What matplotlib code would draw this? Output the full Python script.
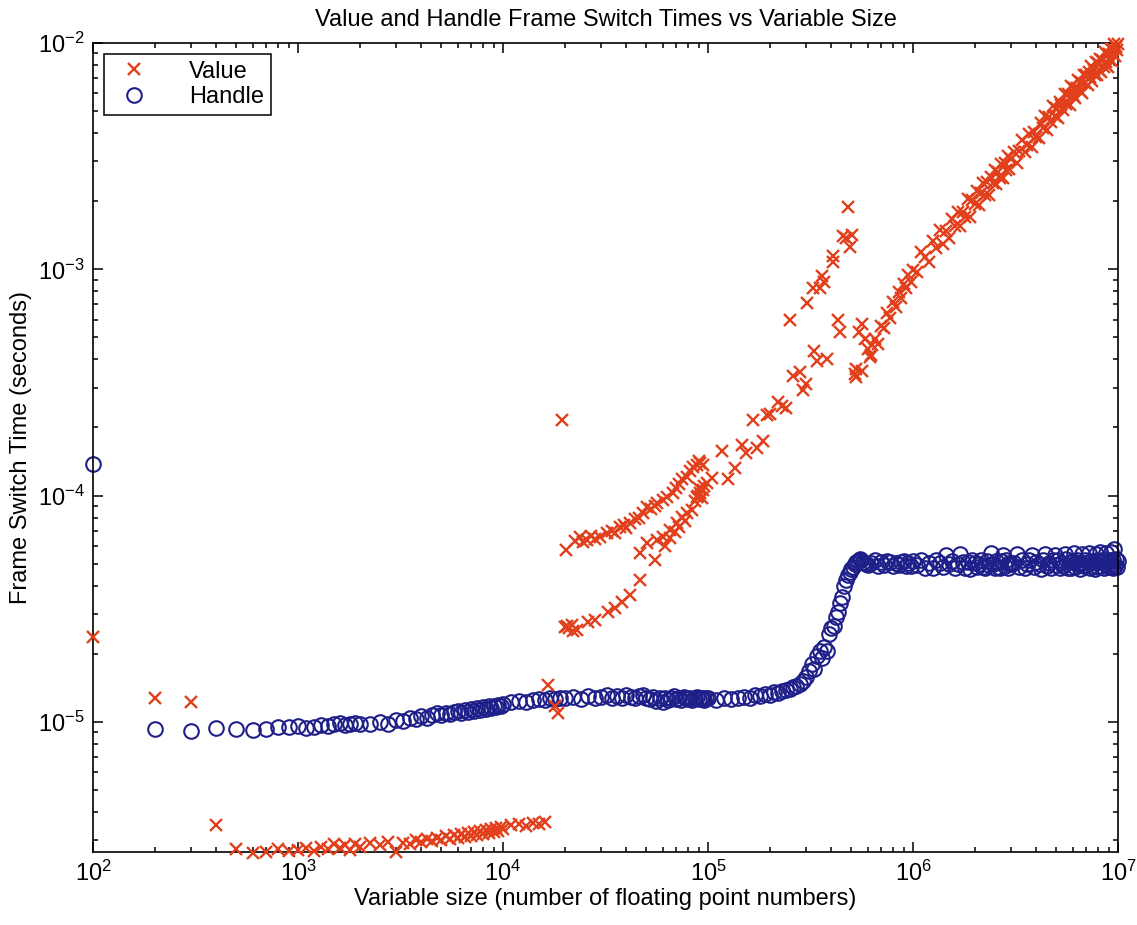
import numpy as np
import matplotlib.pyplot as plt

plt.rcParams['font.family'] = ['Liberation Sans', 'DejaVu Sans']
plt.rcParams['mathtext.default'] = 'regular'

VALUE_C = '#e2401c'
HANDLE_C = '#1f1f8a'

# ---------------- Handle frame switch times ----------------
h_small_x = [100, 200, 300, 400, 500, 600, 700, 800, 900, 1000,
             1100, 1200, 1300, 1400, 1500, 1600, 1700, 1800, 1900, 2000]
h_small_us = [138, 9.3, 9.1, 9.4, 9.3, 9.2, 9.3, 9.5, 9.5, 9.6,
              9.4, 9.5, 9.7, 9.6, 9.8, 9.9, 9.7, 9.8, 9.9, 9.8]

h_mid_x = [2250, 2500, 2750, 3000, 3250, 3500, 3750, 4000, 4250, 4500,
           4750, 5000, 5250, 5500, 5750, 6000, 6250, 6500, 6750, 7000,
           7250, 7500, 7750, 8000, 8250, 8500, 8750, 9000, 9250, 9500,
           9750, 10000]
h_mid_us = [9.8, 10.0, 9.8, 10.2, 10.1, 10.4, 10.3, 10.6, 10.4, 10.7,
            10.9, 10.7, 11.0, 10.8, 11.1, 11.2, 10.9, 11.3, 11.1, 11.4,
            11.2, 11.5, 11.3, 11.6, 11.4, 11.7, 11.5, 11.8, 11.6, 11.9,
            11.7, 12.0]

h_sparse_x = [11000, 12000, 13000, 14000, 15000, 16000, 17000, 18000, 19000, 20000]
h_sparse_us = [12.2, 12.4, 12.3, 12.5, 12.6, 12.5, 12.7, 12.6, 12.8, 12.7]

h_dense_x = [22000, 24000, 26000, 28000, 30000, 32000, 34000, 36000, 38000, 40000,
             42000, 44000, 46000, 48000, 50000, 52000, 54000, 56000, 58000, 60000,
             62000, 64000, 66000, 68000, 70000, 72000, 74000, 76000, 78000, 80000,
             82000, 84000, 86000, 88000, 90000, 92000, 94000, 96000, 98000, 100000]
h_dense_us = [12.9, 12.6, 13.0, 12.7, 12.9, 13.1, 12.7, 13.0, 12.8, 13.2,
              12.9, 12.7, 13.0, 13.1, 12.8, 12.6, 12.9, 12.4, 12.7, 12.3,
              12.8, 12.5, 12.7, 13.0, 12.6, 12.8, 12.5, 12.9, 12.7, 12.6,
              12.8, 12.5, 12.7, 12.9, 12.6, 12.8, 12.7, 12.5, 12.8, 12.7]

h_ramp_x = [110000, 120000, 130000, 140000, 150000, 160000, 170000, 180000, 190000, 200000,
            210000, 220000, 230000, 240000, 250000, 260000, 270000, 280000, 290000, 300000,
            310000, 320000, 330000, 340000, 350000, 360000, 370000, 380000, 390000, 400000,
            410000, 420000, 430000, 440000, 450000, 460000, 470000, 480000, 490000, 500000,
            510000, 520000, 530000, 540000, 550000, 560000, 570000, 580000, 590000, 600000]
h_ramp_us = [12.5, 12.7, 12.6, 12.8, 12.9, 12.8, 13.1, 13.0, 13.3, 13.2,
             13.5, 13.4, 13.7, 13.8, 14.0, 14.2, 14.4, 14.7, 15.2, 15.8,
             16.8, 18.0, 17.2, 19.5, 20.5, 19.2, 21.5, 20.5, 24.5, 26.0,
             26.5, 29.0, 30.5, 33.5, 35.5, 40.0, 42.5, 44.5, 46.0, 47.5,
             48.5, 50.0, 51.0, 51.5, 52.5, 52.0, 51.0, 50.5, 50.0, 49.5]

# large sizes (millions of floats), shared by both series
big_a_m = [0.625, 0.65, 0.675, 0.70, 0.725, 0.75, 0.775, 0.80,
           0.825, 0.85, 0.875, 0.90, 0.925, 0.95, 0.975, 1.0]
big_b_m = [1.05, 1.10, 1.15, 1.20, 1.25, 1.30, 1.35, 1.40, 1.45, 1.50,
           1.55, 1.60, 1.65, 1.70, 1.75, 1.80, 1.85, 1.90, 1.95, 2.00,
           2.05, 2.10, 2.15, 2.20, 2.25, 2.30, 2.35, 2.40, 2.45, 2.50,
           2.55, 2.60, 2.65, 2.70, 2.75, 2.80, 2.85, 2.90, 2.95, 3.00]
big_c_m = [3.1, 3.2, 3.3, 3.4, 3.5, 3.6, 3.7, 3.8, 3.9, 4.0,
           4.1, 4.2, 4.3, 4.4, 4.5, 4.6, 4.7, 4.8, 4.9, 5.0,
           5.1, 5.2, 5.3, 5.4, 5.5, 5.6, 5.7, 5.8, 5.9, 6.0,
           6.1, 6.2, 6.3, 6.4, 6.5, 6.6, 6.7, 6.8, 6.9, 7.0,
           7.1, 7.2, 7.3, 7.4, 7.5, 7.6, 7.7, 7.8, 7.9, 8.0,
           8.1, 8.2, 8.3, 8.4, 8.5, 8.6, 8.7, 8.8, 8.9, 9.0,
           9.1, 9.2, 9.3, 9.4, 9.5, 9.6, 9.7, 9.8, 9.9, 10.0]

h_big_a_us = [50.5, 51.8, 48.6, 50.9, 49.2, 51.3, 51.1, 48.8,
              50.6, 49.4, 51.1, 51.3, 48.7, 50.4, 48.9, 51.2]
h_big_b_us = [49.5, 51.8, 48.1, 50.3, 47.7, 51.9, 50.6, 48.3, 54.8, 49.6,
              51.4, 47.8, 49.7, 55.2, 51.1, 48.0, 50.7, 47.6, 51.8, 50.5,
              48.4, 49.9, 51.8, 48.2, 47.9, 51.3, 49.5, 55.6, 50.0, 47.9,
              51.6, 48.4, 47.7, 51.2, 54.9, 48.6, 51.9, 48.1, 50.4, 49.7]
h_big_c_us = [50.2, 55.4, 48.3, 51.7, 47.8, 49.9, 52.1, 54.7, 48.2, 50.8,
              49.6, 47.5, 51.8, 55.1, 48.8, 50.6, 47.9, 52.0, 54.9, 49.5,
              51.9, 47.7, 50.4, 48.6, 55.3, 52.2, 48.1, 50.8, 47.9, 51.5,
              55.6, 48.4, 51.7, 49.8, 47.6, 50.3, 55.0, 48.9, 52.1, 49.2,
              51.0, 55.7, 47.8, 51.4, 48.8, 50.9, 47.5, 55.2, 52.1, 48.3,
              50.8, 56.1, 48.7, 51.5, 47.9, 52.2, 55.8, 48.8, 51.6, 48.4,
              52.0, 56.4, 49.2, 47.8, 51.9, 57.8, 48.9, 52.7, 48.3, 51.4]

# ---------------- Value frame switch times ----------------
v_start_x = [100, 200, 300, 400]
v_start_us = [23.8, 12.8, 12.2, 3.5]

v_low_x = [500, 600, 700, 800, 900, 1000, 1100, 1200, 1300, 1400,
           1500, 1600, 1700, 1800, 1900, 2000,
           2250, 2500, 2750, 3000, 3250, 3500, 3750, 4000, 4250, 4500,
           4750, 5000, 5250, 5500, 5750, 6000, 6250, 6500, 6750, 7000,
           7250, 7500, 7750, 8000, 8250, 8500, 8750, 9000, 9250, 9500,
           9750, 10000, 11000, 12000, 13000, 14000, 15000, 16000]
v_low_us = [2.74, 2.63, 2.65, 2.74, 2.68, 2.72, 2.78, 2.70, 2.80, 2.75,
            2.90, 2.78, 2.85, 2.72, 2.88, 2.80,
            2.92, 2.86, 2.95, 2.66, 2.93, 2.88, 3.00, 2.94, 3.05, 2.98,
            3.08, 3.02, 3.12, 3.05, 3.15, 3.08, 3.18, 3.10, 3.22, 3.14,
            3.25, 3.17, 3.28, 3.20, 3.32, 3.24, 3.35, 3.27, 3.40, 3.30,
            3.44, 3.36, 3.50, 3.55, 3.48, 3.58, 3.52, 3.60]

v_gap_x = [16500, 18000, 18600, 19400]
v_gap_us = [14.5, 11.8, 11.0, 215]

v_lowbr_x = [20000, 20500, 21000, 21700, 22000, 23000, 26000, 28100, 32500, 35200,
             38000, 41700, 46600]
v_lowbr_us = [26.3, 26.6, 26.0, 26.9, 25.2, 25.5, 27.7, 28.3, 30.7, 31.9,
              34.0, 36.5, 42.5]

v_upbr_x = [20300, 22500, 23800, 24500, 25700, 27000, 28000, 29700, 32100, 34000,
            35000, 37200, 39000, 40000, 41700, 44000, 46000, 48200, 50400, 53000,
            55000, 56400, 60000, 63100, 67500, 70000, 72000, 74700, 79000, 82000,
            84500, 88000, 90000, 91400, 94600]
v_upbr_us = [57.7, 63.0, 65.9, 62.5, 63.9, 66.0, 64.0, 65.9, 68.6, 70.0,
             68.0, 72.9, 74.0, 72.0, 76.0, 79.0, 80.0, 84.1, 89.4, 87.0,
             90.0, 93.1, 96.0, 99.0, 103, 108, 112, 118, 121, 128,
             134, 136, 142, 140, 137]

v_midbr_x = [46600, 50400, 55100, 56400, 60300, 62000, 65000, 65300, 69000, 70600,
             72000, 74700, 77000, 79000, 83600, 86000, 88300, 89000, 90000, 91400,
             93000, 94600, 96000, 98900]
v_midbr_us = [56.0, 62.0, 52.1, 63.9, 65.9, 60.0, 65.0, 70.8, 69.0, 76.0,
              73.0, 80.7, 77.0, 84.1, 86.7, 95.0, 99.0, 100, 108, 103,
              98.0, 106, 110, 114]

v_high_x = [105000, 117000, 125000, 136000, 147000, 154000, 166000, 173000, 185000, 195000,
            200000, 220000, 230000, 240000, 250000, 260000, 280000, 290000, 300000, 304000,
            325000, 330000, 340000, 352000, 360000, 370000, 380000, 405000, 407000, 430000,
            440000, 456000, 470000, 480000, 495000, 504000]
v_high_us = [120, 157, 118, 133, 168, 155, 215, 163, 174, 228,
             230, 260, 250, 243, 594, 336, 350, 294, 310, 710,
             830, 434, 392, 830, 930, 880, 400, 1080, 1140, 594,
             526, 1400, 1380, 1890, 1250, 1420]

v_knee_x = [521000, 527000, 530000, 545000, 564000, 566000, 582000, 600000, 616000, 630000]
v_knee_us = [343, 333, 361, 526, 354, 571, 490, 445, 408, 464]

v_big_a_ms = [0.42, 0.49, 0.47, 0.56, 0.55, 0.64, 0.61, 0.72,
              0.68, 0.79, 0.75, 0.86, 0.83, 0.94, 0.88, 0.99]
v_big_b_ms = [0.97, 1.19, 1.13, 1.08, 1.33, 1.24, 1.49, 1.30, 1.48, 1.37,
              1.66, 1.55, 1.80, 1.56, 1.80, 1.71, 2.04, 1.71, 2.03, 1.94,
              2.21, 1.93, 2.17, 2.40, 2.12, 2.42, 2.14, 2.57, 2.40, 2.75,
              2.37, 2.68, 2.54, 2.92, 2.53, 2.94, 2.76, 3.16, 2.77, 3.06]
v_big_c_ms = [3.29, 2.94, 3.33, 3.71, 3.29, 3.56, 3.96, 3.46, 4.06, 3.84,
              3.81, 4.41, 4.21, 4.75, 4.14, 4.69, 4.47, 5.28, 4.75, 5.15,
              4.64, 5.51, 5.30, 5.08, 5.94, 5.38, 5.93, 5.34, 6.43, 5.88,
              6.34, 5.71, 6.30, 6.84, 6.11, 6.73, 6.04, 7.20, 6.63, 7.21,
              6.54, 7.48, 7.08, 7.90, 6.76, 7.60, 7.24, 8.26, 7.20, 8.15,
              7.62, 8.51, 7.41, 8.39, 7.83, 9.09, 8.27, 8.96, 7.86, 8.90,
              8.43, 9.41, 8.35, 9.43, 8.98, 9.91, 8.80, 9.65, 9.27, 9.94]

# assemble (units -> floats / seconds)
big_x = np.array(big_a_m + big_b_m + big_c_m) * 1e6

handle_x = np.concatenate([h_small_x, h_mid_x, h_sparse_x, h_dense_x, h_ramp_x, big_x])
handle_t = np.concatenate([h_small_us, h_mid_us, h_sparse_us, h_dense_us, h_ramp_us,
                           h_big_a_us, h_big_b_us, h_big_c_us]) * 1e-6

value_x = np.concatenate([v_start_x, v_low_x, v_gap_x, v_lowbr_x, v_upbr_x, v_midbr_x,
                          v_high_x, v_knee_x, big_x])
value_t = np.concatenate([np.array(v_start_us + v_low_us + v_gap_us + v_lowbr_us + v_upbr_us
                                   + v_midbr_us + v_high_us + v_knee_us) * 1e-6,
                          np.array(v_big_a_ms + v_big_b_ms + v_big_c_ms) * 1e-3])

fig = plt.figure(figsize=(11.37, 9.25), dpi=100)
ax = fig.add_axes([0.0818, 0.0789, 0.9015, 0.8746])

ax.plot(handle_x, handle_t, 'o', ls='none', mfc='none', mec=HANDLE_C, ms=10.5, mew=1.5,
        label='Handle', zorder=2, clip_on=False)
ax.plot(value_x, value_t, 'x', ls='none', color=VALUE_C, ms=8.5, mew=1.7,
        label='Value', zorder=3, clip_on=False)

ax.set_xscale('log')
ax.set_yscale('log')
ax.set_xlim(1e2, 1e7)
ax.set_ylim(2.66e-6, 1.0e-2)

ax.tick_params(which='both', direction='in', top=True, right=True, labelsize=17, width=1.1)
ax.tick_params(which='major', length=7, pad=6)
ax.tick_params(which='minor', length=3.5)
for s in ax.spines.values():
    s.set_linewidth(1.2)

ax.set_title('Value and Handle Frame Switch Times vs Variable Size', fontsize=17, pad=12)
ax.set_xlabel('Variable size (number of floating point numbers)', fontsize=17, labelpad=2)
ax.set_ylabel('Frame Switch Time (seconds)', fontsize=17, labelpad=4)

handles, labels = ax.get_legend_handles_labels()
leg = ax.legend([handles[1], handles[0]], [labels[1], labels[0]], loc='upper left',
                fontsize=17, numpoints=1, fancybox=False, framealpha=1, edgecolor='black',
                borderaxespad=0.45, handlelength=2.0, handletextpad=1.3, borderpad=0.3,
                labelspacing=0.15)
leg.get_frame().set_linewidth(1.1)

fig.savefig('out.png', dpi=100)
